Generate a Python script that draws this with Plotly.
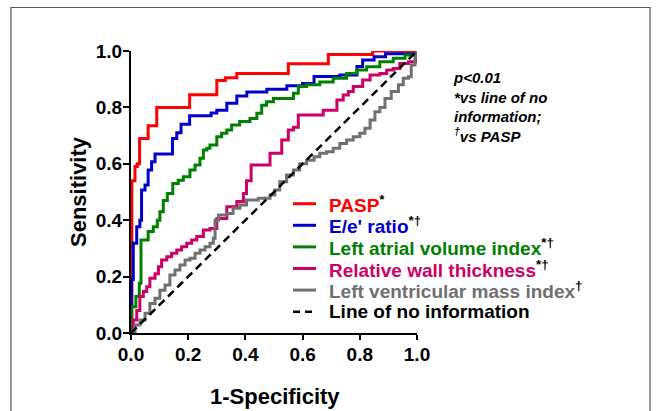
import plotly.graph_objects as go

# ---------------- data ----------------
pasp_x = [0, 0.002, 0.003, 0.014, 0.022, 0.03, 0.06, 0.06, 0.09, 0.09, 0.205, 0.205, 0.30, 0.30, 0.33, 0.37, 0.55, 0.55, 0.69, 0.69, 0.845, 0.845, 1.0]
pasp_y = [0, 0.0, 0.54, 0.59, 0.60, 0.69, 0.69, 0.735, 0.735, 0.80, 0.80, 0.845, 0.845, 0.895, 0.905, 0.92, 0.92, 0.955, 0.955, 0.988, 0.988, 1.0, 1.0]

ee_x = [0, 0.002, 0.008, 0.02, 0.031, 0.037, 0.049, 0.06, 0.072, 0.084, 0.136, 0.145, 0.16, 0.175, 0.19, 0.205, 0.26, 0.28, 0.30, 0.335, 0.37, 0.405, 0.45, 0.475, 0.545, 0.60, 0.64, 0.73, 0.79, 0.81, 0.85, 0.89, 1.0]
ee_y = [0, 0.19, 0.318, 0.377, 0.40, 0.507, 0.525, 0.578, 0.607, 0.635, 0.635, 0.69, 0.71, 0.74, 0.74, 0.77, 0.77, 0.78, 0.79, 0.815, 0.84, 0.855, 0.855, 0.864, 0.877, 0.885, 0.91, 0.915, 0.945, 0.968, 0.98, 0.99, 1.0]

lavi_x = [0, 0.002, 0.017, 0.029, 0.035, 0.049, 0.06, 0.078, 0.092, 0.101, 0.113, 0.127, 0.146, 0.165, 0.183, 0.206, 0.224, 0.241, 0.253, 0.265, 0.276, 0.30, 0.317, 0.335, 0.352, 0.38, 0.416, 0.44, 0.457, 0.474, 0.498, 0.544, 0.568, 0.585, 0.614, 0.66, 0.707, 0.754, 0.79, 0.824, 0.87, 0.917, 0.958, 1.0]
lavi_y = [0, 0.093, 0.129, 0.176, 0.33, 0.33, 0.36, 0.377, 0.40, 0.43, 0.47, 0.495, 0.53, 0.542, 0.554, 0.578, 0.596, 0.62, 0.649, 0.655, 0.667, 0.696, 0.708, 0.72, 0.738, 0.75, 0.761, 0.779, 0.808, 0.82, 0.832, 0.832, 0.85, 0.874, 0.88, 0.89, 0.903, 0.92, 0.933, 0.944, 0.962, 0.974, 0.986, 1.0]

rwt_x = [0, 0.008, 0.02, 0.031, 0.043, 0.055, 0.066, 0.084, 0.096, 0.107, 0.125, 0.142, 0.16, 0.177, 0.195, 0.212, 0.23, 0.253, 0.276, 0.30, 0.335, 0.37, 0.393, 0.404, 0.42, 0.457, 0.486, 0.51, 0.527, 0.55, 0.568, 0.585, 0.66, 0.672, 0.70, 0.72, 0.742, 0.76, 0.777, 0.81, 0.836, 0.87, 0.894, 0.917, 0.94, 0.97, 1.0]
rwt_y = [0, 0.046, 0.08, 0.129, 0.147, 0.164, 0.194, 0.21, 0.235, 0.259, 0.27, 0.283, 0.294, 0.306, 0.318, 0.33, 0.342, 0.365, 0.371, 0.406, 0.448, 0.466, 0.495, 0.54, 0.596, 0.596, 0.637, 0.637, 0.684, 0.72, 0.73, 0.773, 0.773, 0.79, 0.79, 0.826, 0.844, 0.856, 0.874, 0.897, 0.915, 0.92, 0.933, 0.938, 0.956, 0.962, 1.0]

lvmi_x = [0, 0.014, 0.031, 0.049, 0.066, 0.084, 0.101, 0.119, 0.136, 0.154, 0.171, 0.189, 0.206, 0.224, 0.241, 0.259, 0.276, 0.288, 0.294, 0.306, 0.335, 0.357, 0.381, 0.404, 0.445, 0.486, 0.503, 0.52, 0.544, 0.568, 0.59, 0.614, 0.64, 0.66, 0.684, 0.707, 0.73, 0.754, 0.777, 0.80, 0.818, 0.836, 0.853, 0.87, 0.888, 0.91, 0.935, 0.952, 0.97, 0.98, 0.993, 1.0]
lvmi_y = [0, 0.028, 0.046, 0.07, 0.105, 0.123, 0.152, 0.17, 0.206, 0.223, 0.241, 0.259, 0.265, 0.283, 0.294, 0.306, 0.318, 0.336, 0.40, 0.418, 0.424, 0.442, 0.454, 0.472, 0.478, 0.489, 0.507, 0.536, 0.56, 0.578, 0.60, 0.613, 0.625, 0.637, 0.643, 0.655, 0.672, 0.684, 0.696, 0.708, 0.726, 0.755, 0.785, 0.80, 0.832, 0.856, 0.88, 0.903, 0.909, 0.95, 0.98, 1.0]

diag_x = [0, 1]
diag_y = [0, 1]

series_names = ["PASP", "E/e' ratio", "Left atrial volume index", "Relative wall thickness",
                "Left ventricular mass index", "Line of no information"]
series_sup = ["*", "*†", "*†", "*†", "†", ""]
series_colors = ["#FF0000", "#0000CC", "#008000", "#CC0066", "#707070", "#000000"]

tick_vals = [0, 0.2, 0.4, 0.6, 0.8, 1.0]
tick_text = ["0.0", "0.2", "0.4", "0.6", "0.8", "1.0"]

note_lines = ["p&lt;0.01", "*vs line of no", "information;", "<sup>†</sup>vs PASP"]

# ---------------- layout helpers ----------------
FONT = "Liberation Sans, Arial, Helvetica, sans-serif"
W, H = 656, 411
PL, PR, PT, PB = 131, 417, 51, 333  # plot area in pixels


def fx(p):
    return (p - PL) / (PR - PL)


def fy(p):
    return (PB - p) / (PB - PT)


fig = go.Figure()
curves = [(pasp_x, pasp_y), (ee_x, ee_y), (lavi_x, lavi_y), (rwt_x, rwt_y), (lvmi_x, lvmi_y)]
for (xs, ys), col in zip(curves, series_colors[:5]):
    fig.add_trace(go.Scatter(x=xs, y=ys, mode="lines", cliponaxis=False, hoverinfo="skip",
                             line=dict(color=col, width=3, shape="hv"), showlegend=False))
fig.add_trace(go.Scatter(x=diag_x, y=diag_y, mode="lines", cliponaxis=False, hoverinfo="skip",
                         line=dict(color="black", width=2.5, dash="8px,5px"), showlegend=False))

axis_common = dict(range=[0, 1], tickvals=tick_vals, ticktext=tick_text, showline=True,
                   linecolor="black", linewidth=2, ticks="outside", tickwidth=2,
                   tickcolor="black", showgrid=False, zeroline=False, fixedrange=True,
                   tickfont=dict(family=FONT, size=19, color="black", weight="bold"))
fig.update_xaxes(**axis_common, ticklen=5, ticklabelstandoff=-2)
fig.update_yaxes(**axis_common, ticklen=6, ticklabelstandoff=-3)

annotations = []
# axis titles
annotations.append(dict(text="1-Specificity", x=fx(274.5), y=fy(397), xref="paper", yref="paper",
                        showarrow=False, xanchor="center", yanchor="middle",
                        font=dict(family=FONT, size=22, color="black", weight="bold")))
annotations.append(dict(text="Sensitivity", x=fx(78), y=fy(192), xref="paper", yref="paper",
                        showarrow=False, xanchor="center", yanchor="middle", textangle=-90,
                        font=dict(family=FONT, size=22, color="black", weight="bold")))
# note
annotations.append(dict(text="<br>".join(note_lines), x=fx(451), y=fy(67), xref="paper", yref="paper",
                        showarrow=False, xanchor="left", yanchor="top", align="left",
                        font=dict(family=FONT, size=15, color="black", weight="bold", style="italic")))

shapes = []
# legend (manual, to match the reference spacing)
row0, step = 203.7, 21.6
for i, (nm, sp, col) in enumerate(zip(series_names, series_sup, series_colors)):
    yc = row0 + i * step
    txt = f'<span style="color:{col}">{nm}</span>'
    if sp:
        txt += f"<sup>{sp}</sup>"
    annotations.append(dict(text=txt, x=fx(327), y=fy(yc), xref="paper", yref="paper",
                            showarrow=False, xanchor="left", yanchor="middle", align="left",
                            font=dict(family=FONT, size=19, color="black", weight="bold")))
    shapes.append(dict(type="line", xref="paper", yref="paper", x0=fx(293), x1=fx(316),
                       y0=fy(yc), y1=fy(yc),
                       line=dict(color=col, width=3 if i < 5 else 2.5,
                                 dash="solid" if i < 5 else "7px,5px")))

# outer frame
shapes.append(dict(type="rect", xref="paper", yref="paper", x0=fx(11), x1=fx(650),
                   y0=fy(440), y1=fy(7.5), line=dict(color="#555555", width=1.2),
                   fillcolor="rgba(0,0,0,0)", layer="below"))

fig.update_layout(width=W, height=H, margin=dict(l=PL, r=W - PR, t=PT, b=H - PB, autoexpand=False),
                  paper_bgcolor="white", plot_bgcolor="white", showlegend=False,
                  annotations=annotations, shapes=shapes)

fig.write_html("out.html", config={"displayModeBar": False, "staticPlot": True},
               post_script="document.body.style.margin='0px';document.body.style.overflow='hidden';")
